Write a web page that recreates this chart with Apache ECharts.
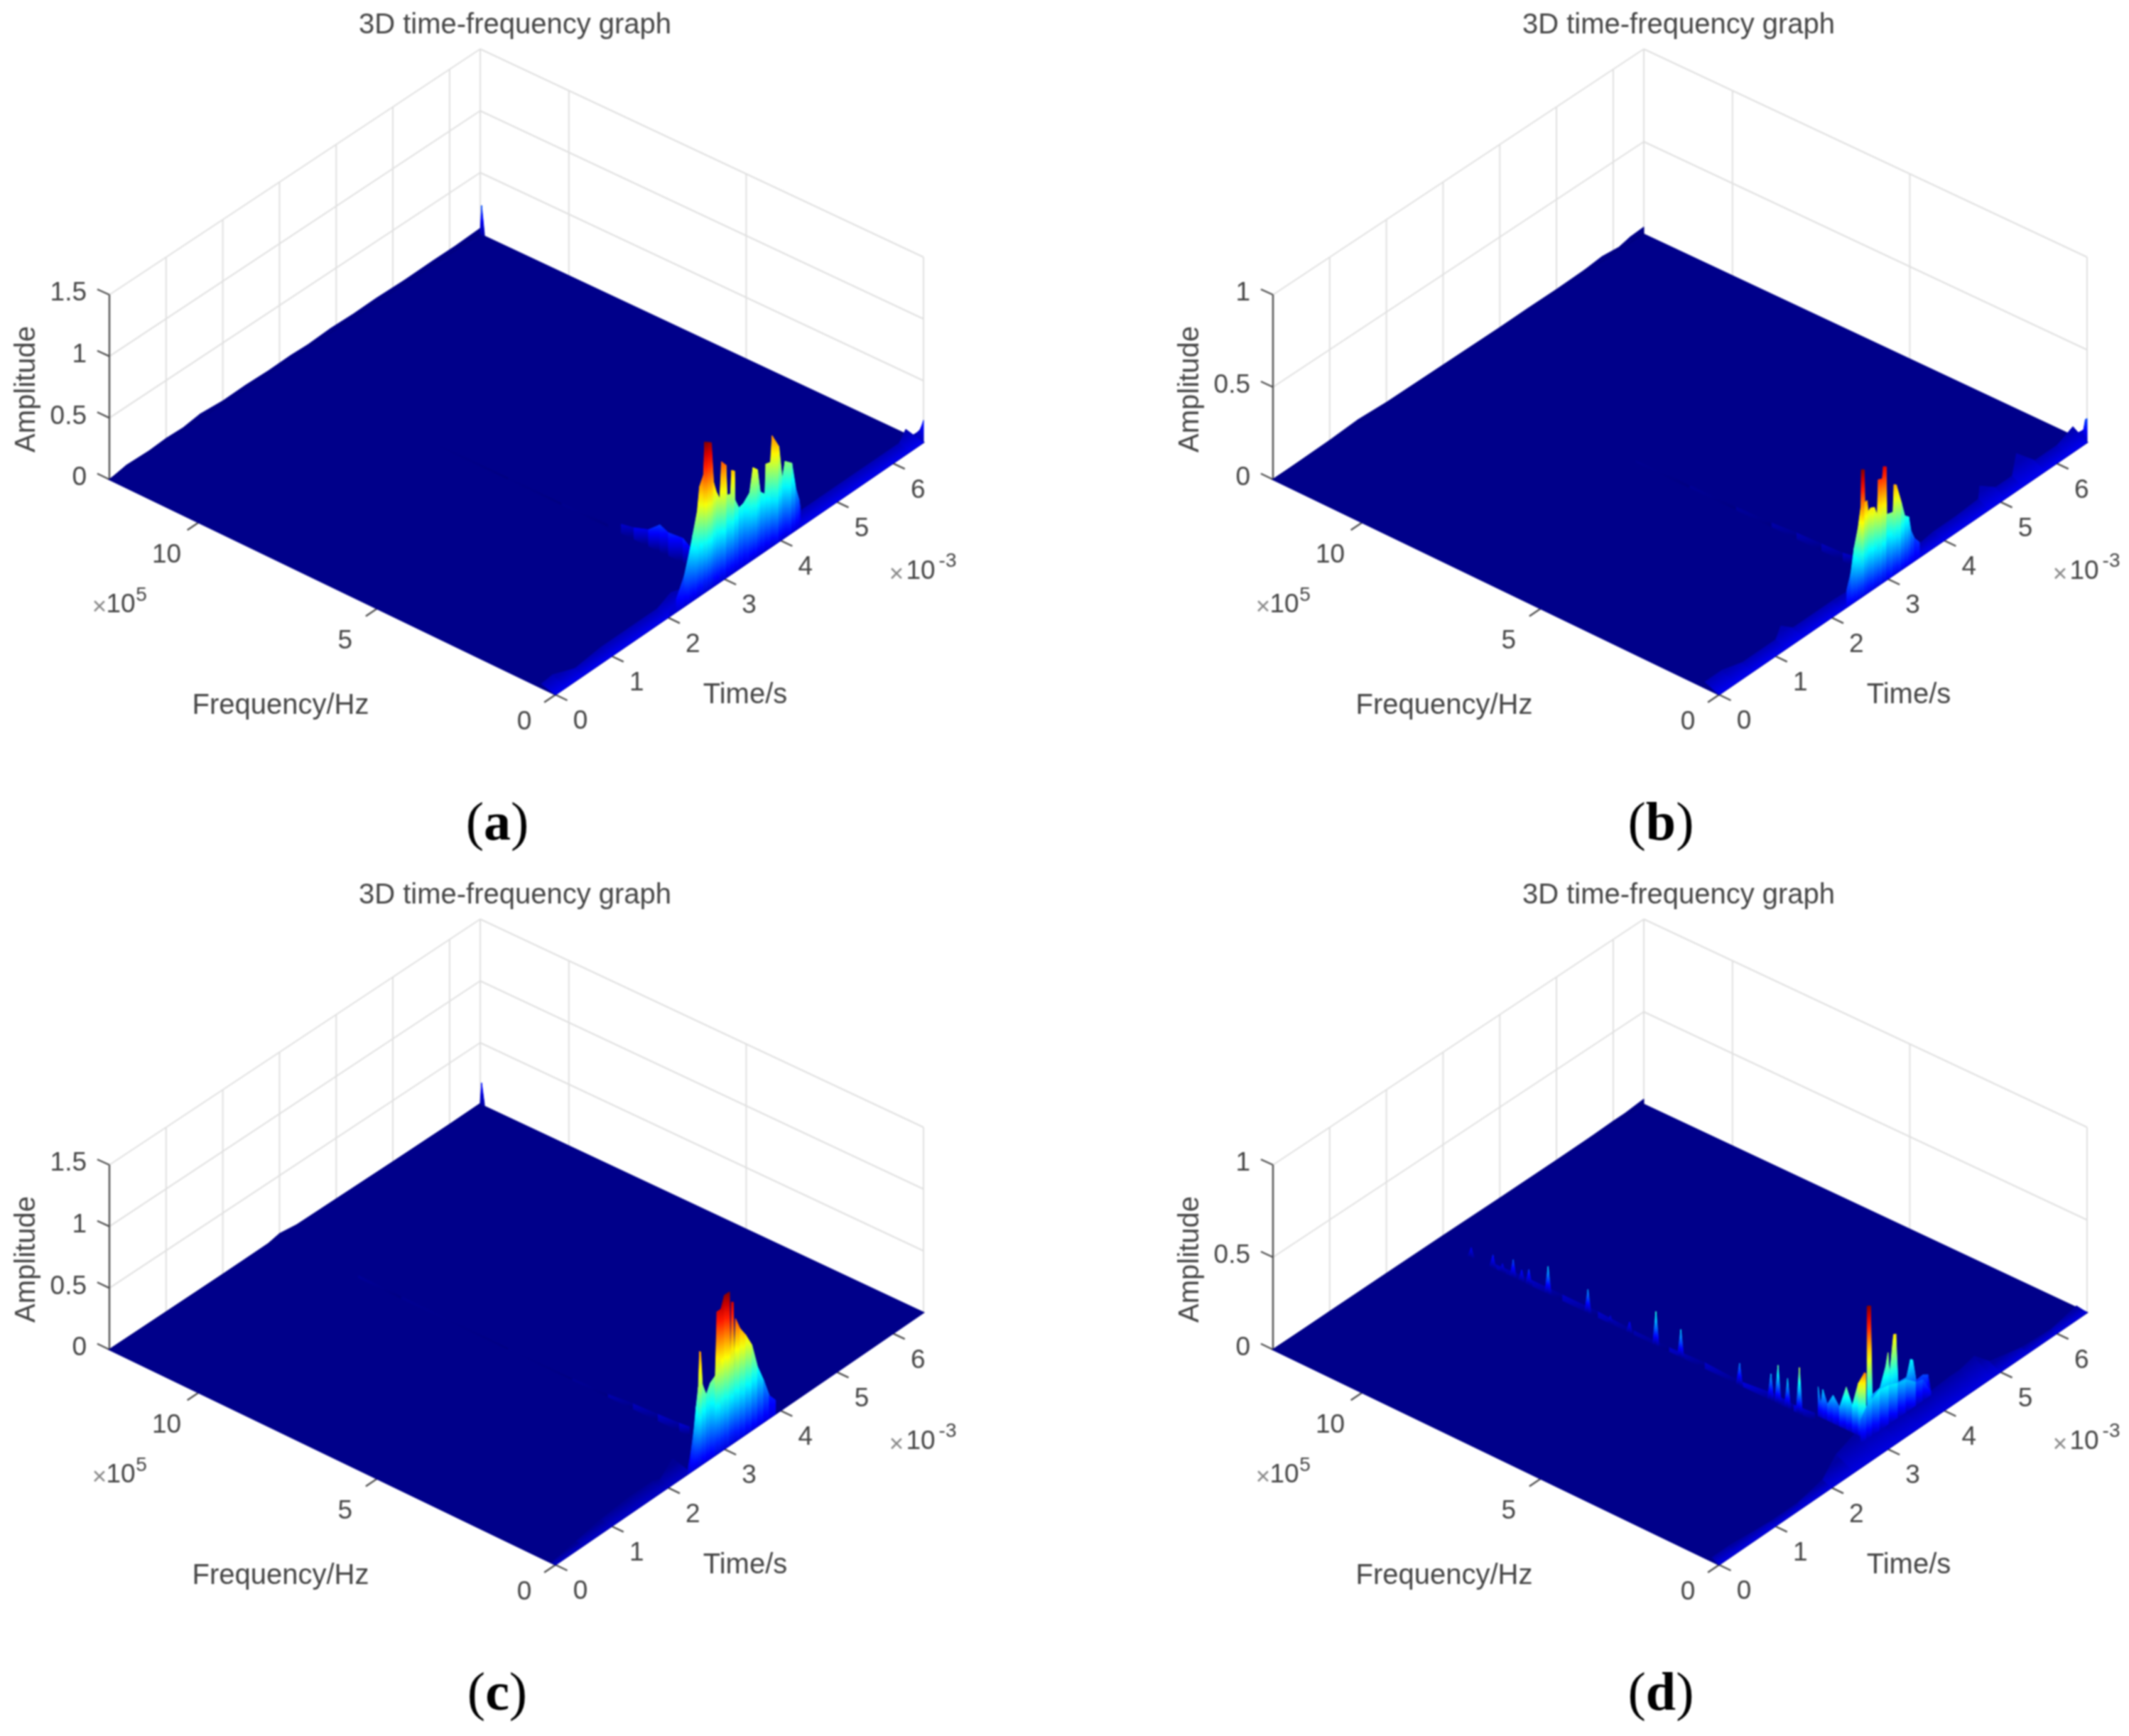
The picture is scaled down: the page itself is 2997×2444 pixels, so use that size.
<!DOCTYPE html>
<html><head><meta charset="utf-8">
<style>html,body{margin:0;padding:0;background:#fff}#c{width:2997px;height:2444px;filter:blur(1.1px)}</style>
<script src="https://cdn.jsdelivr.net/npm/echarts@6/dist/echarts.min.js"></script>
</head><body><div id="c"></div>
<script>
const timeTicks=[0,1,2,3,4,5,6];
const freqTicks=[0,5,10];
const ampTicks15=[0,0.5,1,1.5];
const ampTicks10=[0,0.5,1];
const T_MAX=6.54, F_MAX=12.5;
const panelTitle='3D time-frequency graph';
const timeName='Time/s', freqName='Frequency/Hz', ampName='Amplitude';
const panelNames=['a','b','c','d'];

// panel (a)
const aPeakT=[2.02,2.15,2.29,2.39,2.44,2.52,2.56,2.63,2.65,2.71,2.77,2.81,2.86,2.92,2.95,3.03,3.05,3.11,3.13,3.18,3.19,3.26,3.34,3.45,3.51,3.59,3.64,3.72,3.74,3.82,3.85,3.97,4.03,4.08,4.20,4.27,4.33,4.35];
const aPeakA=[.03,.10,.24,.41,.51,.67,.85,.92,1.17,1.15,1.13,.81,.72,.65,.93,.88,.64,.63,.81,.79,.56,.48,.49,.54,.72,.68,.49,.45,.68,.67,.87,.75,.48,.60,.55,.33,.22,.16];
const aRimT=[0,.2,.5,1,1.5,2,2.3,2.6,3.5,4.4,5,5.5,6,6.3,6.54];
const aRimF=[.4,.4,.25,.3,.3,.3,.4,.3,.3,.3,.3,.3,.3,.3,.5];
const aRimA=[.03,.04,.02,.03,.03,.03,.05,.03,.03,.03,.03,.03,.03,.03,.04];
const aCornerF=[0,.05,.1,.2,.3,.4];
const aCornerA=[.18,.13,.09,.05,.02,0];
const aBackF=[12.38,12.46,12.5];
const aBackA=[.02,.24,.02];
const aEdgeT=[0,.3,.7,1,1.3,1.6,2,2.4,2.8,3.2,3.5,3.9,4.3,4.7,5.2,5.7,6.1,6.54];
const aEdgeA=[0,.025,.02,.03,.025,.045,.03,.035,.03,.035,.03,.04,.035,.04,.035,.04,.04,.05];
const aSmearF=[2.82,2.46,2.05,1.73,1.49,1.08,.84];
const aSmearA=[.07,.09,.13,.21,.18,.19,.14];
const aRidgeF=[3.2,4.5,6,8];
const aRidgeA=[.02,.012,.012,.008];

// panel (b)
const bPeakT=[2.27,2.34,2.40,2.47,2.52,2.53,2.58,2.59,2.63,2.65,2.69,2.76,2.81,2.83,2.90,2.92,2.97,2.98,3.09,3.11,3.15,3.24,3.30,3.37,3.41,3.47,3.56];
const bPeakA=[.09,.16,.28,.37,.47,.66,.65,.48,.48,.42,.43,.42,.37,.55,.54,.60,.59,.34,.33,.47,.46,.35,.27,.25,.17,.12,.08];
const bRimT=[0,.3,.6,1.2,1.35,1.5,1.8,2.2,3.5,4,4.4,4.8,4.95,5.1,5.4,5.6,5.8,6.2,6.54];
const bRimF=[.4,.4,.3,.3,.4,.3,.3,.3,.2,.3,.3,.3,.5,.3,.3,.5,.3,.3,.4];
const bRimA=[.03,.03,.02,.02,.05,.02,.02,.02,.02,.02,.02,.03,.05,.03,.03,.09,.03,.03,.05];
const bCornerF=[0,.05,.1,.2,.3];
const bCornerA=[.13,.12,.06,.04,.02];
const bEdgeT=[0,1,1.5,2,3,4,4.5,5,5.5,5.8,6.1,6.3,6.54];
const bEdgeA=[0,.01,.02,.012,.012,.012,.015,.015,.02,.03,.02,.035,.04];
const bRidgeF=[.9,1.2,1.8,2.5,3.2,4.2,5.5,7];
const bRidgeA=[.05,.04,.035,.03,.02,.015,.012,.008];

// panel (c)
const cPeakT=[2.36,2.41,2.46,2.50,2.54,2.56,2.58,2.61,2.68,2.75,2.84,2.87,2.94,3.00,3.09,3.11,3.13,3.16,3.18,3.20,3.28,3.38,3.49,3.59,3.70,3.80,3.91];
const cPeakA=[.05,.16,.31,.48,.62,.89,.88,.62,.52,.59,.62,1.11,1.11,1.20,1.20,.62,1.11,1.10,.54,.96,.86,.78,.67,.47,.33,.18,.11];
const cRimT=[0,.5,1,1.5,1.95,2.05,2.4];
const cRimF=[.1,.2,.3,.35,.35,.3,.5];
const cRimA=[.005,.01,.015,.02,.02,.01,.04];
const cBackF=[12.38,12.46,12.5];
const cBackA=[.02,.18,.02];
const cEdgeT=[0,2,2.8,3,3.3,4,5,6,6.54];
const cEdgeA=[0,.005,.01,.03,.01,.008,.005,.005,.01];
const cRidgeF=[.9,1.2,1.8,2.5,3.2,4.2,6,9,10.2];
const cRidgeA=[.07,.06,.05,.04,.02,.01,.008,.015,.02];

// panel (d)
const dLeftF=[1.96,1.89,1.83,1.70,1.54,1.36,1.17,1.0,.83,.66,.62];
const dLeftA=[.152,.065,.15,.085,.146,.10,.22,.14,.27,.34,.34];
const dMainT=[3.01,3.07,3.10,3.24,3.34,3.38,3.41,3.48,3.52,3.56,3.71,3.78,3.82,3.88,4.0,4.09,4.14];
const dMainA=[.69,.68,.21,.22,.31,.375,.255,.45,.445,.185,.18,.26,.25,.13,.135,.118,.02];
const dMoundT=[2.9,3.0,3.1,3.24,3.4,3.56,3.7,3.88,4.0,4.14];
const dMoundA=[.12,.17,.19,.21,.2,.18,.17,.12,.11,.02];
const dSpikeF=[11.55,10.94,10.67,10.37,10.13,9.93,9.39,8.27,7.64,7.10,6.36,5.66,4.01,3.13,2.93,2.66,2.33];
const dSpikeA=[.05,.067,.045,.093,.06,.08,.146,.125,.04,.056,.178,.145,.114,.137,.2,.154,.24];
const dRidgeF=[1.9,2.5,3,4,5,6,7,8,9,10,11];
const dRidgeA=[.04,.03,.04,.02,.03,.02,.02,.03,.03,.03,.02];
const dRimT=[0,.3,1,1.5,2,2.4,2.8,3.2,3.6,4,4.4,4.6,4.85,5,5.5,6,6.54];
const dRimF=[.2,.2,.15,.15,.25,.5,.6,.6,.5,.5,.5,.5,.5,.3,.2,.15,.3];
const dRimA=[.02,.02,.01,.01,.02,.05,.07,.06,.04,.04,.05,.05,.07,.03,.01,.01,.01];
const dEdgeT=[0,1,2,3,4,5,5.6,6,6.2,6.54];
const dEdgeA=[0,.005,.008,.01,.01,.012,.015,.02,.02,.03];

// view geometry (pixels inside one panel)
const FRONT=[782,978], RIGHT=[1300,623], LEFT=[154,675], BACK=[676,330];
const Z_FRONT=279, Z_RIGHT=261, Z_LEFT=260, Z_BACK=261;
const FLOOR='#00008A';
const SANS='"Liberation Sans"';

function proj(t,f,a,zTop){
  const u=t/T_MAX, v=f/F_MAX;
  const mix=(A,B,C,D)=>(1-u)*(1-v)*A+u*(1-v)*B+(1-u)*v*C+u*v*D;
  const x=mix(FRONT[0],RIGHT[0],LEFT[0],BACK[0]);
  const y=mix(FRONT[1],RIGHT[1],LEFT[1],BACK[1]);
  const h=mix(Z_FRONT,Z_RIGHT,Z_LEFT,Z_BACK);
  return [x,y-a/zTop*h];
}
function jet(x){
  const c=k=>Math.round(255*Math.max(0,Math.min(1,1.5-Math.abs(4*x-k))));
  return 'rgb('+c(3)+','+c(2)+','+c(1)+')';
}
function rampStops(bottom,top){
  const stops=[];
  for(let i=0;i<=12;i++){const k=i/12;stops.push({offset:k,color:jet(top+(bottom-top)*k)});}
  return stops;
}
function ramp(bottom,top){ return new echarts.graphic.LinearGradient(0,0,0,1,rampStops(bottom,top)); }
// fade across a band that runs along a floor edge: bright at the edge, floor colour at its far side
function bandFill(pts,bottom,top){
  const bx=(pts[0][0]+pts[3][0])/2, by=(pts[0][1]+pts[3][1])/2;
  const tx=(pts[1][0]+pts[2][0])/2, ty=(pts[1][1]+pts[2][1])/2;
  let dx=pts[3][0]-pts[0][0], dy=pts[3][1]-pts[0][1];
  const L=Math.hypot(dx,dy)||1; dx/=L; dy/=L;
  const nx=-dy, ny=dx, d=(tx-bx)*nx+(ty-by)*ny;
  if(Math.abs(d)<.5) return jet(bottom);
  return new echarts.graphic.LinearGradient(bx,by,bx+nx*d,by+ny*d,rampStops(top,bottom),true);
}
// rows are [t1,f1,a1,t2,f2,a2,fBase1,fBase2]
function rowsT(ts,fs,as,base){
  const r=[];
  for(let i=0;i+1<ts.length;i++){
    const f1=Array.isArray(fs)?fs[i]:fs, f2=Array.isArray(fs)?fs[i+1]:fs;
    r.push([ts[i],f1,as[i],ts[i+1],f2,as[i+1],base===undefined?f1:base,base===undefined?f2:base]);
  }
  return r;
}
function rowsF(t,fs,as){
  const r=[];
  for(let i=0;i+1<fs.length;i++) r.push([t,fs[i],as[i],t,fs[i+1],as[i+1],fs[i],fs[i+1]]);
  return r;
}
function spikeRows(t,fs,as,half){
  const r=[];
  for(let i=0;i<fs.length;i++){
    r.push([t,fs[i]-half,0,t,fs[i],as[i],fs[i]-half,fs[i]]);
    r.push([t,fs[i],as[i],t,fs[i]+half,0,fs[i],fs[i]+half]);
  }
  return r;
}
function sheet(g,rows,zTop,amax,base,fadeTop){
  return {type:'custom',coordinateSystem:'cartesian2d',xAxisIndex:g,yAxisIndex:g,silent:true,animation:false,clip:false,
    data:rows,
    renderItem(p,api){
      const v=i=>api.value(i);
      const pts=[[v(0),v(6),0],[v(0),v(1),v(2)],[v(3),v(4),v(5)],[v(3),v(7),0]]
        .map(q=>api.coord(proj(q[0],q[1],q[2],zTop)));
      const fill=fadeTop!==undefined?bandFill(pts,base,fadeTop):ramp(base,Math.max(v(2),v(5))/amax);
      return {type:'polygon',shape:{points:pts},style:{fill:fill,stroke:fill,lineWidth:1}};
    }};
}
function lines(g,rows,zTop,color,width){
  return {type:'custom',coordinateSystem:'cartesian2d',xAxisIndex:g,yAxisIndex:g,silent:true,animation:false,clip:false,
    data:rows,
    renderItem(p,api){
      const v=i=>api.value(i);
      const a=api.coord(proj(v(0),v(1),v(2),zTop)), b=api.coord(proj(v(3),v(4),v(5),zTop));
      return {type:'line',shape:{x1:a[0],y1:a[1],x2:b[0],y2:b[1]},style:{stroke:color,lineWidth:width}};
    }};
}
function floor(g,zTop){
  return {type:'custom',coordinateSystem:'cartesian2d',xAxisIndex:g,yAxisIndex:g,silent:true,animation:false,clip:false,
    data:[[0,0],[T_MAX,0],[T_MAX,F_MAX],[0,F_MAX]],
    renderItem(p,api){
      if(p.dataIndex!==0) return null;
      const pts=[[0,0],[T_MAX,0],[T_MAX,F_MAX],[0,F_MAX]].map(q=>api.coord(proj(q[0],q[1],0,zTop)));
      return {type:'polygon',shape:{points:pts},style:{fill:FLOOR,stroke:FLOOR,lineWidth:2}};
    }};
}
function texts(g,items){
  return {type:'custom',coordinateSystem:'cartesian2d',xAxisIndex:g,yAxisIndex:g,silent:true,animation:false,clip:false,
    data:items.map(it=>[it.x,it.y]),
    renderItem(p,api){
      const it=items[p.dataIndex];
      const c=api.coord([api.value(0),api.value(1)]);
      return {type:'text',x:c[0],y:c[1],rotation:it.rot||0,
        style:{text:it.text,fill:it.color||'#454545',font:it.font||('37px '+SANS),align:it.align||'center',verticalAlign:'middle',rich:it.rich}};
    }};
}
function frame(g,ampTicks){
  const zTop=ampTicks[ampTicks.length-1], wall=[], axis=[];
  timeTicks.forEach(t=>{ wall.push([t,F_MAX,0,t,F_MAX,zTop]); axis.push([t,0,0,t,-.33,0]); });
  wall.push([T_MAX,F_MAX,0,T_MAX,F_MAX,zTop]);
  freqTicks.forEach(f=>{ wall.push([T_MAX,f,0,T_MAX,f,zTop]); axis.push([0,f,0,-.2,f,0]); });
  ampTicks.forEach(a=>{
    wall.push([0,F_MAX,a,T_MAX,F_MAX,a]);
    wall.push([T_MAX,F_MAX,a,T_MAX,0,a]);
    axis.push([0,F_MAX,a,0,F_MAX+.34,a]);
  });
  axis.push([0,F_MAX,0,0,F_MAX,zTop]);
  return [lines(g,wall,zTop,'#e0e0e0',2),lines(g,axis,zTop,'#505050',2.4)];
}
function labels(g,ampTicks,name){
  const zTop=ampTicks[ampTicks.length-1], items=[];
  const at=(t,f,a,dx,dy)=>{const q=proj(t,f,a,zTop);return {x:q[0]+dx,y:q[1]+dy};};
  items.push({x:725,y:36,text:panelTitle,font:'40px '+SANS});
  timeTicks.forEach(t=>items.push(Object.assign(at(t,0,0,35,38),{text:String(t)})));
  freqTicks.forEach(f=>items.push(Object.assign(at(0,f,0,f===0?-44:-45,f===0?39:46),{text:String(f)})));
  ampTicks.forEach(a=>items.push(Object.assign(at(0,F_MAX,a,-32,-2),{text:String(a),align:'right'})));
  items.push({x:38,y:548,text:ampName,rot:Math.PI/2,font:'40px '+SANS});
  items.push({x:395,y:994,text:freqName,font:'40px '+SANS});
  items.push({x:1049,y:979,text:timeName,font:'40px '+SANS});
  items.push({x:140,y:855,text:'×',font:'35px '+SANS,color:'#888'});
  items.push({x:170,y:852,text:'10',font:'37px '+SANS});
  items.push({x:199,y:838,text:'5',font:'28px '+SANS});
  items.push({x:1262,y:809,text:'×',font:'35px '+SANS,color:'#888'});
  items.push({x:1296,y:805,text:'10',font:'37px '+SANS});
  items.push({x:1334,y:790,text:'-3',font:'28px '+SANS});
  items.push({x:700,y:1162,text:'{p|(}{b|'+name+'}{p|)}',rich:{
    p:{font:'76px "Liberation Serif"',fill:'#000'},
    b:{font:'bold 76px "Liberation Serif"',fill:'#000'}}});
  return texts(g,items);
}

const R=2.95; // ridge time in ms (panels share the same event)
const panels=[
  {ticks:ampTicks15,marks:g=>[
    sheet(g,rowsT(aEdgeT,F_MAX,aEdgeA),1.5,1,0,.01),
    sheet(g,rowsF(T_MAX,aBackF,aBackA),1.5,1.17,.03),
    sheet(g,rowsF(T_MAX,aCornerF,aCornerA),1.5,1.17,.06),
    sheet(g,rowsF(R,aRidgeF,aRidgeA),1.5,1.17,0),
    sheet(g,rowsF(R,aSmearF,aSmearA),1.5,1.17,0),
    sheet(g,rowsT(aRimT,aRimF,aRimA,0),1.5,1,.11,.05),
    sheet(g,rowsT(aPeakT,0,aPeakA),1.5,1.17,.08)]},
  {ticks:ampTicks10,marks:g=>[
    sheet(g,rowsT(bEdgeT,F_MAX,bEdgeA),1,1,0,.01),
    sheet(g,rowsF(T_MAX,bCornerF,bCornerA),1,.66,.06),
    sheet(g,rowsF(R,bRidgeF,bRidgeA),1,.66,0),
    sheet(g,rowsT(bRimT,bRimF,bRimA,0),1,1,.11,.05),
    sheet(g,rowsT(bPeakT,0,bPeakA),1,.66,.1)]},
  {ticks:ampTicks15,marks:g=>[
    sheet(g,rowsT(cEdgeT,F_MAX,cEdgeA),1.5,1,0,.01),
    sheet(g,rowsF(T_MAX,cBackF,cBackA),1.5,1.2,.03),
    sheet(g,rowsF(R,cRidgeF,cRidgeA),1.5,.8,0),
    sheet(g,rowsT(cRimT,cRimF,cRimA,0),1.5,1,.07,.02),
    sheet(g,rowsT(cPeakT,0,cPeakA),1.5,1.2,.09)]},
  {ticks:ampTicks10,marks:g=>[
    sheet(g,rowsT(dEdgeT,F_MAX,dEdgeA),1,1,0,.01),
    sheet(g,rowsF(2.9,dRidgeF,dRidgeA),1,.4,0),
    sheet(g,rowsT(dRimT,dRimF,dRimA,0),1,1,.095,.035),
    sheet(g,spikeRows(2.9,dSpikeF,dSpikeA,.09),1,.42,.01),
    sheet(g,rowsF(3.0,dLeftF,dLeftA),1,.45,.05),
    sheet(g,rowsT(dMainT,.6,dMainA),1,.69,.05),
    sheet(g,rowsT(dMoundT,.6,dMoundA),1,.55,.05)]}
];
const OFFSET=[[0,0,1359,1225],[1638,0,1359,1225],[0,1225,1359,1219],[1638,1225,1359,1219]];
const grid=[],xAxis=[],yAxis=[],series=[];
OFFSET.forEach((o,g)=>{
  grid.push({left:o[0],top:o[1],width:o[2],height:o[3],show:false});
  xAxis.push({type:'value',gridIndex:g,min:0,max:o[2],show:false});
  yAxis.push({type:'value',gridIndex:g,min:0,max:o[3],inverse:true,show:false});
  const P=panels[g], zTop=P.ticks[P.ticks.length-1];
  series.push(...frame(g,P.ticks));
  series.push(floor(g,zTop));
  series.push(...P.marks(g));
  series.push(labels(g,P.ticks,panelNames[g]));
});
const chart=echarts.init(document.getElementById('c'),null,{renderer:'canvas'});
chart.setOption({backgroundColor:'#fff',animation:false,grid,xAxis,yAxis,series});
</script></body></html>
